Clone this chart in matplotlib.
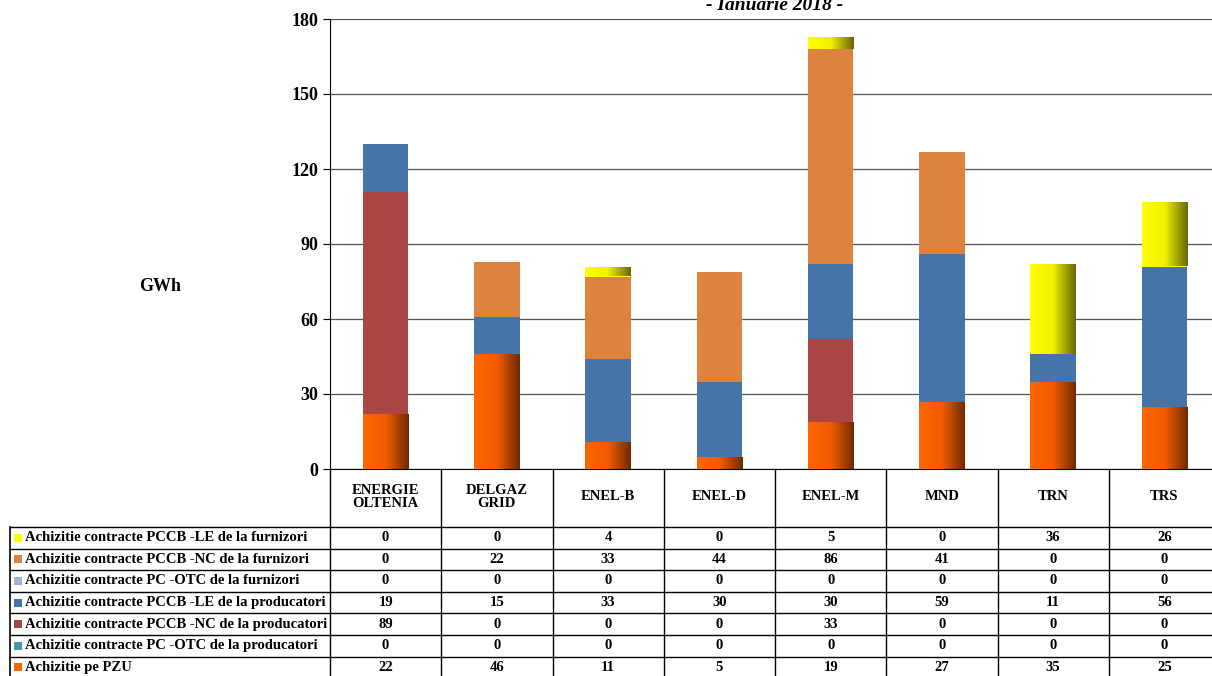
import numpy as np
import matplotlib.pyplot as plt
from matplotlib.colors import LinearSegmentedColormap

plt.rcParams['font.family'] = ['Liberation Serif', 'DejaVu Serif']
plt.rcParams['font.weight'] = 'bold'

companies = ['ENERGIE\nOLTENIA', 'DELGAZ\nGRID', 'ENEL-B', 'ENEL-D', 'ENEL-M', 'MND', 'TRN', 'TRS']
pzu = [22, 46, 11, 5, 19, 27, 35, 25]
otc_prod = [0, 0, 0, 0, 0, 0, 0, 0]
nc_prod = [89, 0, 0, 0, 33, 0, 0, 0]
le_prod = [19, 15, 33, 30, 30, 59, 11, 56]
otc_furn = [0, 0, 0, 0, 0, 0, 0, 0]
nc_furn = [0, 22, 33, 44, 86, 41, 0, 0]
le_furn = [0, 0, 4, 0, 5, 0, 36, 26]

# bottom to top stacking order
series = [
    ('Achizitie pe PZU', pzu, '#FF6600', 'pzu'),
    ('Achizitie contracte PC -OTC de la producatori', otc_prod, '#4198AF', None),
    ('Achizitie contracte PCCB -NC de la producatori', nc_prod, '#AA4643', None),
    ('Achizitie contracte PCCB -LE de la producatori', le_prod, '#4673A8', None),
    ('Achizitie contracte PC -OTC de la furnizori', otc_furn, '#9DB3D9', None),
    ('Achizitie contracte PCCB -NC de la furnizori', nc_furn, '#DC843F', None),
    ('Achizitie contracte PCCB -LE de la furnizori', le_furn, '#FFFF00', 'yel'),
]
grads = {
    'pzu': LinearSegmentedColormap.from_list('pzu', ['#FF6600', '#F25C00', '#6E2A00']),
    'yel': LinearSegmentedColormap.from_list('yel', ['#FFFF00', '#F0F000', '#66660A']),
}

W, H = 1212, 676
fig = plt.figure(figsize=(W / 100, H / 100), dpi=100)

def fx(p):
    return p / W

def fy(p):
    return 1 - p / H

x0, x1, ytop, ybot = 330, 1220, 19, 469
ax = fig.add_axes([fx(x0), fy(ybot), fx(x1 - x0), fy(ytop) - fy(ybot)])
x = np.arange(len(companies))
bw = 0.41
bottom = np.zeros(len(companies))
for name, vals, col, g in series:
    vals = np.array(vals, dtype=float)
    bars = ax.bar(x, vals, bw, bottom=bottom, color=col, zorder=3, linewidth=0)
    if g:
        grad = np.linspace(0, 1, 256).reshape(1, -1)
        for b in bars:
            if b.get_height() <= 0:
                continue
            bx, by = b.get_x(), b.get_y()
            im = ax.imshow(grad, cmap=grads[g], aspect='auto', zorder=4,
                           extent=[bx, bx + b.get_width(), by, by + b.get_height()])
            im.set_clip_path(b)
    bottom += vals

ax.set_xlim(-0.5, len(companies) - 0.5)
ax.set_ylim(0, 180)
ax.set_yticks(range(0, 181, 30))
ax.tick_params(axis='y', labelsize=13, length=5, direction='out')
for t in ax.get_yticklabels():
    t.set_fontweight('bold')
ax.set_xticks([])
ax.yaxis.grid(True, color='#555555', linewidth=0.9, zorder=0)
for s in ['top', 'right']:
    ax.spines[s].set_visible(False)
ax.set_aspect('auto')

fig.text(fx(160), fy(286), 'GWh', ha='center', va='center', fontsize=13, fontweight='bold')
fig.text(fx(775), fy(6), '- Ianuarie 2018 -', ha='center', va='center', fontsize=14,
         fontweight='bold', style='italic')

# data table
colw = (x1 - x0) / len(companies)
rows_top = 527
rh = 21.6
order = series[::-1]
lc = 'black'
for k in range(len(companies) + 1):
    xx = x0 + k * colw
    fig.add_artist(plt.Line2D([fx(xx), fx(xx)], [fy(ybot), fy(rows_top + rh * 7)],
                              color=lc, lw=1))
fig.add_artist(plt.Line2D([fx(10), fx(10)], [fy(rows_top), fy(rows_top + rh * 7)], color=lc, lw=1.2))
for i in range(8):
    yy = rows_top + i * rh
    fig.add_artist(plt.Line2D([fx(10), fx(x1)], [fy(yy), fy(yy)], color=lc, lw=1))
for k, c in enumerate(companies):
    fig.text(fx(x0 + (k + 0.5) * colw), fy(497), c, ha='center', va='center',
             fontsize=10.5, fontweight='bold', linespacing=1.0)
for i, (name, vals, col, g) in enumerate(order):
    yc = rows_top + (i + 0.5) * rh
    fig.add_artist(plt.Rectangle((fx(14), fy(yc + 4)), fx(8), fy(yc - 4) - fy(yc + 4),
                                 facecolor=col, edgecolor='none'))
    fig.text(fx(25), fy(yc), name, ha='left', va='center', fontsize=10.5, fontweight='bold')
    for k, v in enumerate(vals):
        fig.text(fx(x0 + (k + 0.5) * colw), fy(yc), str(v), ha='center', va='center',
                 fontsize=10.5, fontweight='bold')

fig.savefig('out.png', dpi=100)
